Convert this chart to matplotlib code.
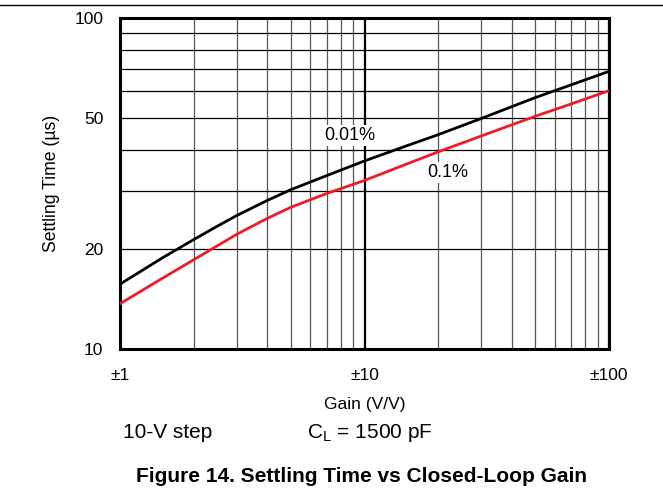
import matplotlib
matplotlib.use("Agg")
import matplotlib.pyplot as plt
from matplotlib.ticker import FixedLocator, NullFormatter
from matplotlib.lines import Line2D

plt.rcParams['font.family'] = ['Liberation Sans', 'DejaVu Sans']

# values
gain = [1, 1.5, 2, 2.5, 3, 4, 5, 7, 10, 15, 20, 30, 50, 70, 100]
settle_001 = [15.7, 18.9, 21.4, 23.5, 25.3, 28.1, 30.3, 33.4, 37.0, 41.2, 44.4,
              49.7, 57.5, 62.8, 69.0]
settle_01 = [13.7, 16.4, 18.6, 20.5, 22.2, 24.8, 26.8, 29.5, 32.3, 36.3, 39.4,
             44.0, 50.5, 55.0, 60.3]

x_major = [1, 10, 100]
x_labels = ['±1', '±10', '±100']
x_minor = [2, 3, 4, 5, 6, 7, 8, 9, 20, 30, 40, 50, 60, 70, 80, 90]
y_major = [10, 20, 50, 100]
y_minor = [30, 40, 60, 70, 80, 90]

W, H = 663, 493
fig = plt.figure(figsize=(W / 100, H / 100), dpi=100)
ax = fig.add_axes([120 / W, 1 - 349 / H, 489 / W, 331 / H])

ax.set_xscale('log')
ax.set_yscale('log')
ax.set_xlim(1, 100)
ax.set_ylim(10, 100)

ax.xaxis.set_major_locator(FixedLocator(x_major))
ax.xaxis.set_minor_locator(FixedLocator(x_minor))
ax.yaxis.set_major_locator(FixedLocator(y_major))
ax.yaxis.set_minor_locator(FixedLocator(y_minor))
ax.set_xticklabels(x_labels)
ax.set_yticklabels([str(v) for v in y_major])
ax.xaxis.set_minor_formatter(NullFormatter())
ax.yaxis.set_minor_formatter(NullFormatter())
ax.tick_params(which='both', length=0)
ax.tick_params(axis='x', pad=14, labelsize=12.5)
ax.tick_params(axis='y', pad=12, labelsize=12.5)

ax.grid(axis='x', which='major', color='black', lw=1.6)
ax.grid(axis='x', which='minor', color='#555555', lw=0.9)
ax.grid(axis='y', which='both', color='black', lw=0.9)
ax.set_axisbelow(True)

for s in ax.spines.values():
    s.set_linewidth(2.2)

ax.plot(gain, settle_001, color='black', lw=2.0, zorder=3)
ax.plot(gain, settle_01, color='#ee1c24', lw=2.0, zorder=3)

box = dict(facecolor='white', edgecolor='none', pad=1.5)
ax.text(8.73, 44.1, '0.01%', fontsize=13, ha='center', va='center', bbox=box, zorder=4)
ax.text(21.8, 34.1, '0.1%', fontsize=13, ha='center', va='center', bbox=box, zorder=4)

ax.set_xlabel('Gain (V/V)', fontsize=12.5, labelpad=10)
ax.set_ylabel('Settling Time (µs)', fontsize=12.7, labelpad=10)

fig.text(168 / W, 1 - 433 / H, '10-V step', fontsize=15, ha='center', va='center')
fig.text(370 / W, 1 - 433 / H, r'C$_\mathregular{L}$ = 1500 pF', fontsize=15,
         ha='center', va='center')
fig.text(362 / W, 1 - 476 / H, 'Figure 14. Settling Time vs Closed-Loop Gain',
         fontsize=15, fontweight='bold', ha='center', va='center')

fig.add_artist(Line2D([0, 1], [1 - 5 / H, 1 - 5 / H], color='black', lw=1.0,
                      transform=fig.transFigure))

fig.savefig('out.png', dpi=100)
